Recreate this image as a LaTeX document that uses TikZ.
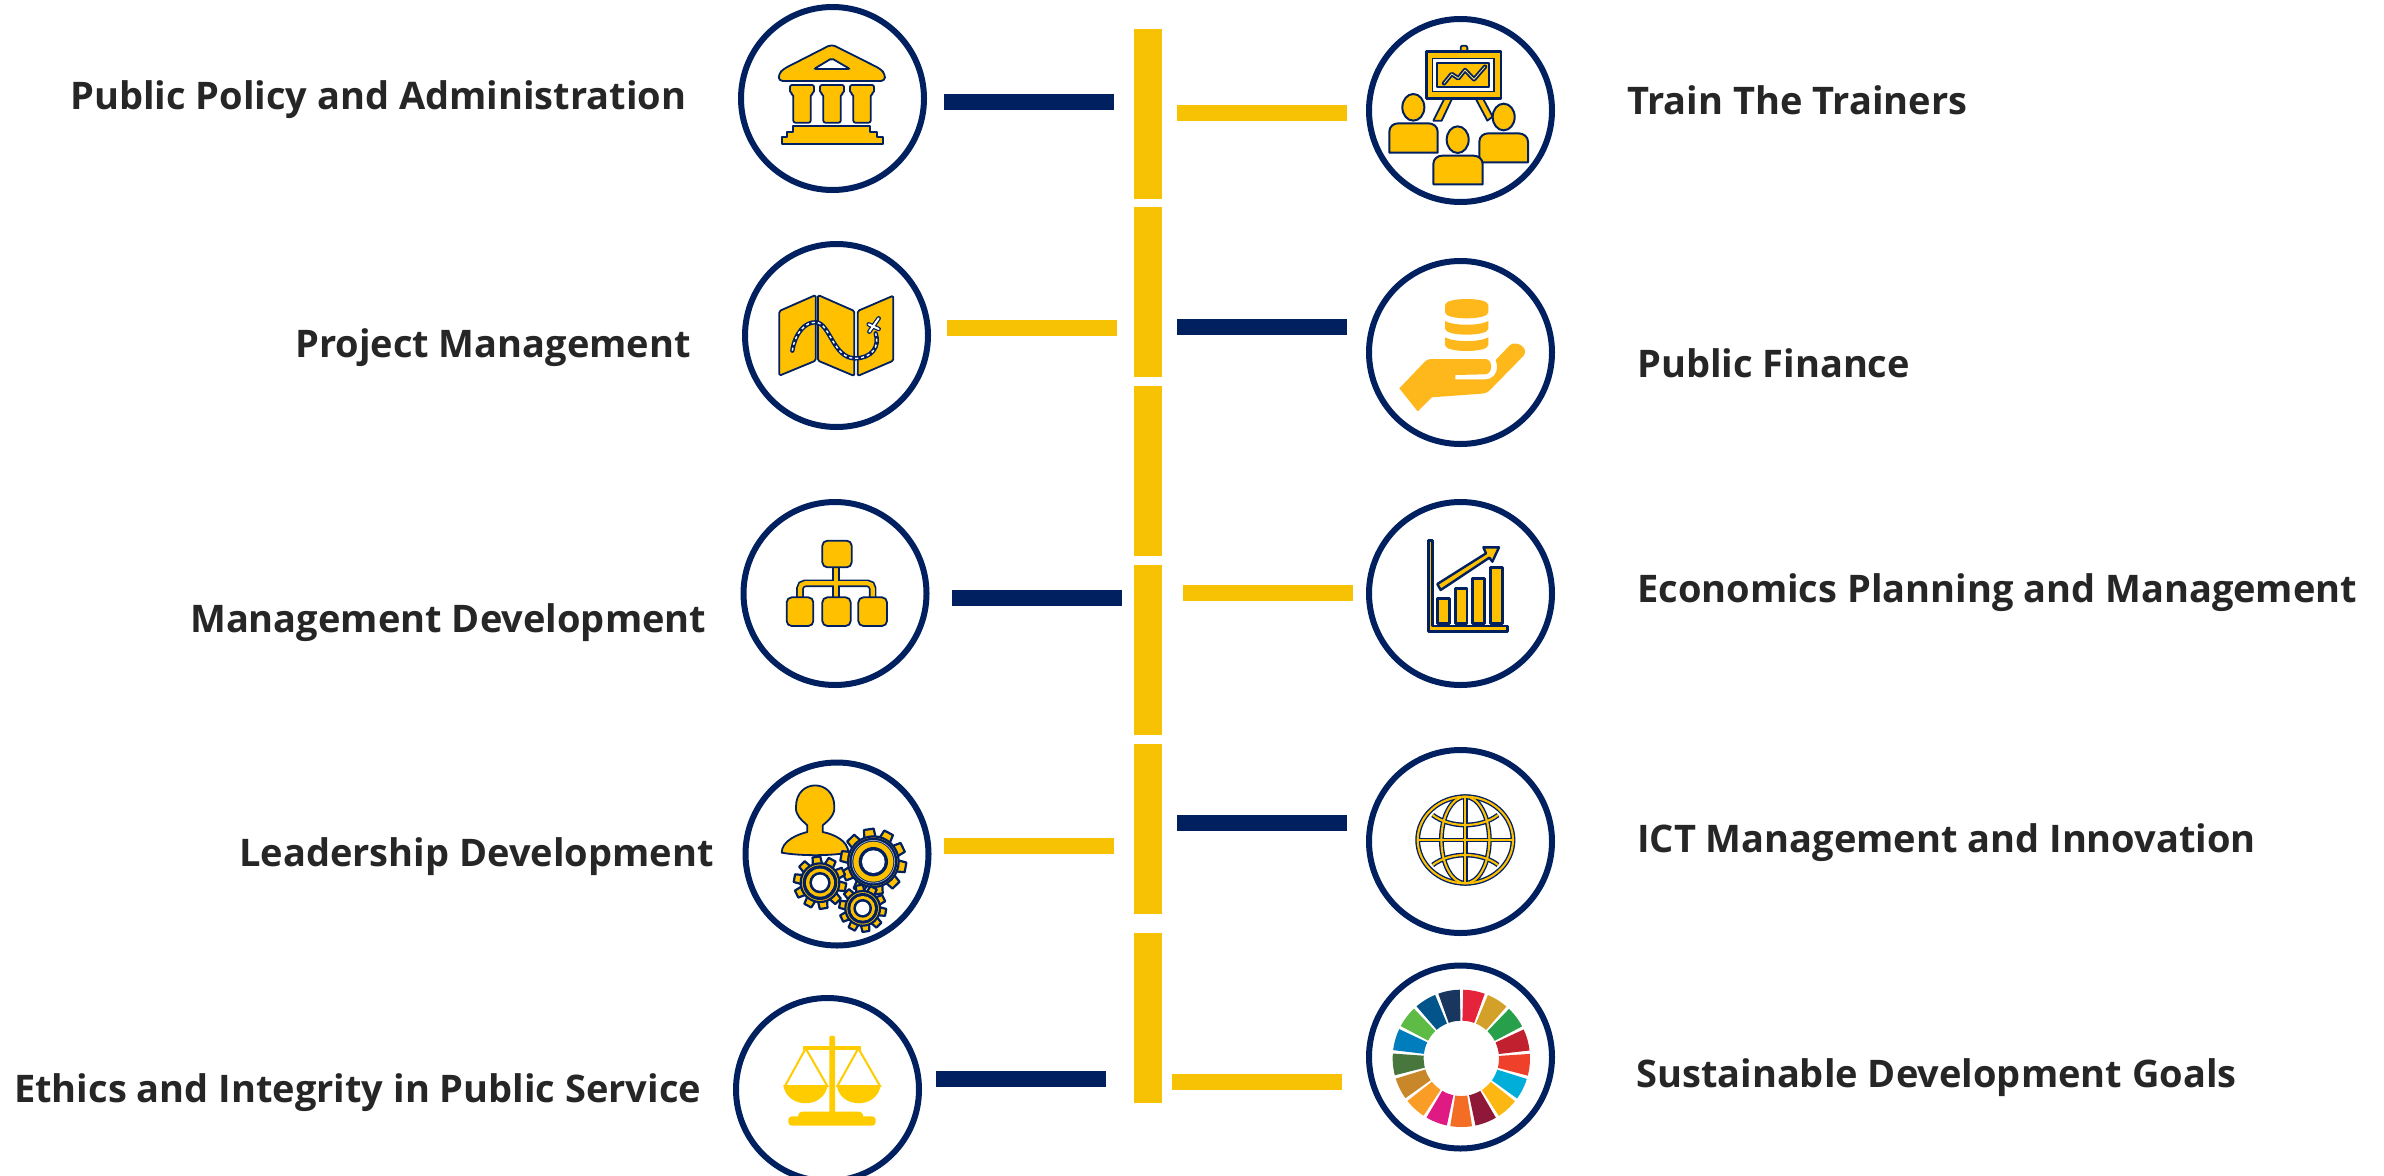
\documentclass[tikz,border=0pt]{standalone}
\usepackage{fontspec}
\setmainfont{Open Sans}
\definecolor{navy}{HTML}{002060}
\definecolor{bar}{HTML}{F7C104}
\definecolor{iy}{HTML}{FFC000}
\definecolor{handy}{HTML}{FFB81C}
\definecolor{scaley}{HTML}{FFCC00}
\definecolor{txt}{HTML}{262626}
\tikzset{
  ring/.style={circle,draw=navy,line width=6pt,fill=white,minimum size=183pt,inner sep=0pt},
  lab/.style={anchor=base west,inner sep=0pt,text=txt,font=\fontsize{38}{42}\selectfont\bfseries},
  icon/.style={fill=iy,draw=navy,line width=1.8pt,line join=round},
  zoomed/.style={x=0.33333pt,y=-0.33333pt},
  navybar/.style={fill=navy},
  yelbar/.style={fill=bar}
}
\newcommand{\hbarat}[4]{\fill[#1] (#2,#3) rectangle ++(170,16);}
\newcommand{\gearicon}[5]{% cx cy outer body n
  \pgfmathsetmacro{\gstep}{360/#5}
  \foreach \gi in {1,...,#5}{
    \pgfmathsetmacro{\ga}{\gi*\gstep+8}
    \draw[icon,line width=2.2pt,shift={(#1,#2)},rotate=\ga] (-0.24*#3,0) -- (-0.15*#3,#3) -- (0.15*#3,#3) -- (0.24*#3,0) -- cycle;
  }
  \draw[icon,line width=2.2pt] (#1,#2) circle (#4);
}
\begin{document}
\begin{tikzpicture}[x=1pt,y=-1pt]
\useasboundingbox (0,0) rectangle (2384,1175);
\fill[white] (0,0) rectangle (2384,1175);

% central column
\foreach \ya/\yb in {29/199,207/377,386/556,565/735,744/914,933/1103}
  \fill[bar] (1134,\ya) rectangle (1162,\yb);

% horizontal bars
\hbarat{navybar}{944}{94}{}
\hbarat{yelbar}{1177}{105}{}
\hbarat{yelbar}{947}{320}{}
\hbarat{navybar}{1177}{319}{}
\hbarat{navybar}{952}{590}{}
\hbarat{yelbar}{1183}{585}{}
\hbarat{yelbar}{944}{838}{}
\hbarat{navybar}{1177}{815}{}
\hbarat{navybar}{936}{1071}{}
\hbarat{yelbar}{1172}{1074}{}

% rings
\node[ring] (c1) at (832.5,98.5) {};
\node[ring] (c2) at (836.5,335.5) {};
\node[ring] (c3) at (835,593.5) {};
\node[ring] (c4) at (837,854) {};
\node[ring] (c5) at (827.5,1089.5) {};
\node[ring] (d1) at (1460.5,110.5) {};
\node[ring] (d2) at (1460.5,352.5) {};
\node[ring] (d3) at (1460.5,593.5) {};
\node[ring] (d4) at (1460.5,841.5) {};
\node[ring] (d5) at (1460.5,1057) {};

% labels
\node[lab] (l1) at (70,109) {Public Policy and Administration};
\node[lab] (l2) at (295,357) {Project Management};
\node[lab] (l3) at (190,632) {Management Development};
\node[lab] (l4) at (239,866) {Leadership Development};
\node[lab] (l5) at (14,1102) {Ethics and Integrity in Public Service};
\node[lab] (r1) at (1627,114) {Train The Trainers};
\node[lab] (r2) at (1637,377) {Public Finance};
\node[lab] (r3) at (1637,602) {Economics Planning and Management};
\node[lab] (r4) at (1637,852) {ICT Management and Innovation};
\node[lab] (r5) at (1636,1087) {Sustainable Development Goals};

% temple
\begin{scope}[shift={(720,0)},zoomed]
\draw[icon] [rounded corners=4pt] (176,243) -- (176,222) -- (190,207) -- (335,133) -- (482,207) -- (495,222) -- (495,243) -- cycle;
\draw[fill=white,draw=navy,line width=1.8pt,rounded corners=2pt] (282,207) -- (335,175) -- (390,207) -- cycle;
\foreach \d in {0,90,180}{
  \draw[icon,shift={(\d,0)},rounded corners=2pt] (210,280) -- (210,255) -- (282,255) -- (282,280) -- (272,282) -- (272,368) -- (220,368) -- (220,282) -- cycle;
}
\draw[icon] (220,378) -- (450,378) -- (450,397) -- (472,397) -- (472,412) -- (488,412) -- (488,433) -- (186,433) -- (186,412) -- (202,412) -- (202,397) -- (220,397) -- cycle;
\end{scope}

% map
\begin{scope}[shift={(730,230)},zoomed]
\draw[icon,rounded corners=1.5pt] (148,243) -- (257,195) -- (257,392) -- (148,437) -- cycle;
\draw[icon,rounded corners=1.5pt] (264,195) -- (373,243) -- (373,438) -- (264,392) -- cycle;
\draw[icon,rounded corners=1.5pt] (383,243) -- (490,197) -- (490,392) -- (383,438) -- cycle;
\draw[navy,line width=4.4pt,line cap=round] (187,362) .. controls (195,310) and (225,275) .. (258,277) .. controls (300,280) and (310,385) .. (375,385) .. controls (425,385) and (450,350) .. (437,310);
\draw[white,line width=1.4pt,dash pattern=on 3pt off 3pt] (187,362) .. controls (195,310) and (225,275) .. (258,277) .. controls (300,280) and (310,385) .. (375,385) .. controls (425,385) and (450,350) .. (437,310);
\draw[navy,line width=4.5pt,line cap=round] (418,305) -- (446,265) (416,283) -- (446,297);
\draw[white,line width=2pt,line cap=round] (418,305) -- (446,265) (416,283) -- (446,297);
\end{scope}

% org chart
\begin{scope}[shift={(730,490)},zoomed]
\draw[navy,line width=7.6pt,rounded corners=5pt] (210,330) -- (210,280) -- (428,280) -- (428,330);
\draw[navy,line width=7.6pt] (318,225) -- (318,330);
\draw[iy,line width=4.2pt,rounded corners=5pt] (210,330) -- (210,280) -- (428,280) -- (428,330);
\draw[iy,line width=4.2pt] (318,225) -- (318,330);
\draw[icon,rounded corners=5pt] (277,152) rectangle (365,232);
\draw[icon,rounded corners=5pt] (170,322) rectangle (250,408);
\draw[icon,rounded corners=5pt] (277,322) rectangle (362,408);
\draw[icon,rounded corners=5pt] (385,322) rectangle (471,408);
\end{scope}

% person and gears
\begin{scope}[shift={(730,750)},zoomed]
\draw[icon] (155,308) .. controls (155,272) and (205,252) .. (232,246) -- (232,226) .. controls (215,210) and (195,195) .. (198,170) .. controls (198,85) and (313,85) .. (313,170) .. controls (315,195) and (295,212) .. (278,226) -- (278,246) .. controls (310,252) and (355,272) .. (355,308) .. controls (300,318) and (210,318) .. (155,308) -- cycle;
\gearicon{430}{335}{98}{76}{10}
\fill[navy] (430,335) circle (72);
\draw[white!70!navy,line width=.6pt] (430,335) circle (64);
\fill[iy] (430,335) circle (60);
\fill[navy] (430,335) circle (44);
\fill[white] (430,335) circle (34);
\gearicon{270}{398}{78}{58}{10}
\fill[navy] (270,398) circle (52);
\fill[iy] (270,398) circle (42);
\fill[navy] (270,398) circle (32);
\fill[white] (270,398) circle (24);
\gearicon{398}{475}{70}{52}{10}
\fill[navy] (398,475) circle (46);
\fill[iy] (398,475) circle (37);
\fill[navy] (398,475) circle (28);
\fill[white] (398,475) circle (20);
\end{scope}

% scales
\begin{scope}[shift={(720,990)},zoomed]
\fill[scaley,rounded corners=2pt] (328,137) rectangle (345,370);
\fill[scaley] (250,167) rectangle (423,180);
\draw[scaley,line width=2pt] (257,175) -- (195,288) -- (322,288) -- cycle;
\draw[scaley,line width=2pt] (415,175) -- (352,288) -- (480,288) -- cycle;
\fill[scaley] (190,285) .. controls (200,358) and (313,358) .. (323,285) -- cycle;
\fill[scaley] (350,285) .. controls (360,358) and (472,358) .. (482,285) -- cycle;
\fill[scaley,rounded corners=3pt] (232,382) -- (238,365) -- (426,365) -- (432,382) -- cycle;
\fill[scaley,rounded corners=3.5pt] (205,379) rectangle (467,407);
\end{scope}

% presentation
\begin{scope}[shift={(1350,0)},zoomed]
\draw[icon,rounded corners=2pt] (332,158) -- (332,137) -- (352,137) -- (352,158) -- cycle;
\draw[icon,line width=1.8pt] (285,292) -- (250,362) -- (275,362) -- (308,292) -- cycle;
\draw[icon,line width=1.8pt] (375,292) -- (412,362) -- (428,350) -- (397,292) -- cycle;
\draw[icon,line width=2.4pt] (230,155) rectangle (453,295);
\draw[fill=white,draw=navy,line width=1.4pt] (248,175) rectangle (432,275);
\draw[icon,line width=2pt] (262,188) rectangle (418,262);
\draw[navy,line width=4.4pt,line join=round,line cap=round] (282,250) -- (305,222) -- (325,235) -- (345,210) -- (372,238) -- (405,200);
\draw[iy!50!white,line width=.8pt,line join=round] (282,250) -- (305,222) -- (325,235) -- (345,210) -- (372,238) -- (405,200);
\draw[icon,line width=2pt] (118,458) -- (118,395) .. controls (118,380) and (130,370) .. (145,370) -- (235,370) .. controls (250,370) and (263,380) .. (263,395) -- (263,458) -- cycle;
\draw[icon,line width=2pt] (190,322) ellipse (33 and 40);
\draw[icon,line width=2pt] (388,487) -- (388,425) .. controls (388,410) and (400,400) .. (415,400) -- (505,400) .. controls (520,400) and (534,410) .. (534,425) -- (534,487) -- cycle;
\draw[icon,line width=2pt] (461,351) ellipse (33 and 40);
\draw[icon,line width=2pt] (250,553) -- (250,492) .. controls (250,477) and (262,467) .. (277,467) -- (370,467) .. controls (385,467) and (398,477) .. (398,492) -- (398,553) -- cycle;
\draw[icon,line width=2pt] (323,419) ellipse (33 and 40);
\end{scope}

% coins and hand
\begin{scope}[shift={(1350,250)},zoomed]
\fill[handy] (285,165) .. controls (285,141) and (415,141) .. (415,165) -- (415,187) .. controls (415,211) and (285,211) .. (285,187) -- cycle;
\fill[handy] (285,213) .. controls (310,228) and (390,228) .. (415,213) -- (415,236) .. controls (415,260) and (285,260) .. (285,236) -- cycle;
\fill[handy] (285,262) .. controls (310,277) and (390,277) .. (415,262) -- (415,285) .. controls (415,309) and (285,309) .. (285,285) -- cycle;
\fill[handy] (148,415) -- (215,345) .. controls (225,333) and (232,327) .. (245,327) -- (405,327) .. controls (430,327) and (430,372) .. (405,373) -- (316,375) -- (316,388) -- (405,388) .. controls (430,388) and (450,365) .. (437,330) -- (480,285) .. controls (500,270) and (540,295) .. (520,318) -- (425,415) .. controls (415,425) and (410,430) .. (395,431) -- (245,442) -- (203,484) -- cycle;
\end{scope}

% bar chart
\begin{scope}[shift={(1350,490)},zoomed]
\draw[icon,line width=2.6pt,miter limit=4] (235,152) -- (248,152) -- (248,408) -- (473,408) -- (473,425) -- (235,425) -- cycle;
\draw[icon,line width=2.6pt] (263,325) rectangle (298,400);
\draw[icon,line width=2.6pt] (316,295) rectangle (351,400);
\draw[icon,line width=2.6pt] (368,265) rectangle (404,400);
\draw[icon,line width=2.6pt] (421,233) rectangle (458,400);
\draw[icon,line width=2.4pt] (262,282) -- (408,190) -- (400,172) -- (447,172) -- (427,215) -- (418,203) -- (272,300) -- cycle;
\end{scope}

% globe
\begin{scope}[shift={(1350,740)},zoomed]
\foreach \col/\w in {navy/4.8pt,iy/2.1pt}{
  \draw[\col,line width=\w] (346,300) ellipse (143 and 130);
  \draw[\col,line width=\w] (346,300) ellipse (72 and 130);
  \draw[\col,line width=\w] (346,170) -- (346,430);
  \draw[\col,line width=\w] (203,300) -- (489,300);
  \draw[\col,line width=\w] (248,225) .. controls (300,265) and (392,265) .. (444,225);
  \draw[\col,line width=\w] (248,375) .. controls (300,335) and (392,335) .. (444,375);
}
\end{scope}

% SDG ring
\begin{scope}[shift={(1350,950)},zoomed]
\foreach \i/\c in {0/E5243B,1/D3A029,2/28A04B,3/C1202F,4/EF402B,5/00AED9,6/FDB713,7/8F1838,8/F36D25,9/E01A83,10/F99D26,11/C8882A,12/48773E,13/007DBC,14/5DBB46,15/02558B,16/19365F}{
  \definecolor{wc}{HTML}{\c}
  \pgfmathsetmacro{\sa}{-88.4+\i*21.176}
  \pgfmathsetmacro{\sb}{\sa+18.3}
  \fill[wc,shift={(334,325)}] plot[domain=\sa:\sb,samples=7] (\x:206) -- plot[domain=\sb:\sa,samples=7] (\x:113) -- cycle;
}
\end{scope}
\end{tikzpicture}
\end{document}
